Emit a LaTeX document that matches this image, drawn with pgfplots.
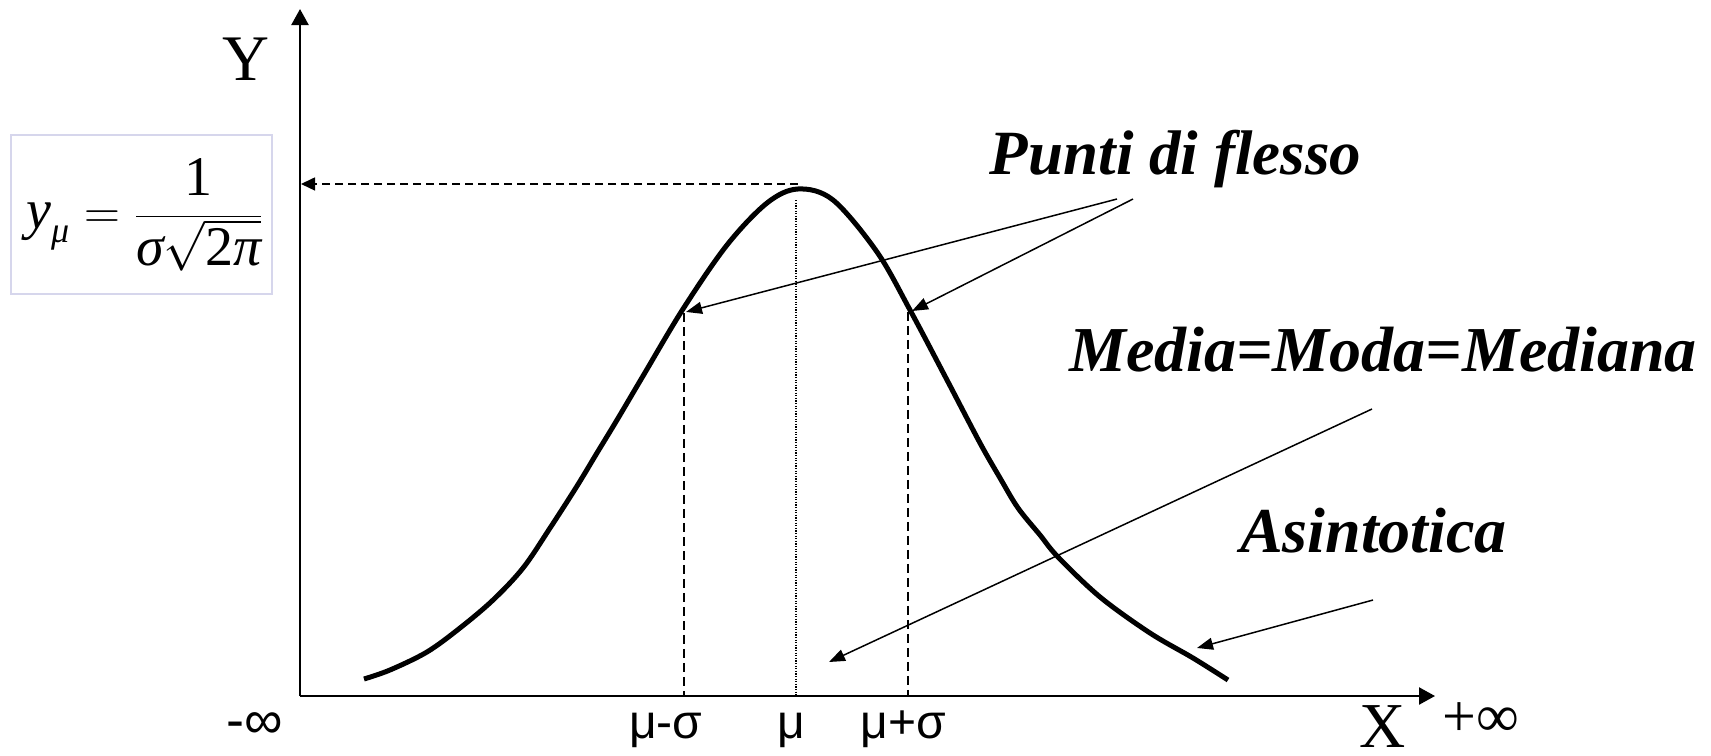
\documentclass[border=0pt]{standalone}
\usepackage{fontspec}
\setmainfont{Liberation Serif}
\newfontfamily\arial{Liberation Sans}
\usepackage{pgfplots}
\pgfplotsset{compat=1.18}
\usetikzlibrary{arrows.meta}
\begin{document}
\begin{tikzpicture}
\begin{axis}[
  scale only axis, width=855.5pt, height=377.5pt,
  xmin=-7.125, xmax=8.1518, ymin=-0.11858, ymax=1.37352,
  hide axis, clip=false]
% invisible frame for the bounding box
\path (axis cs:-7.125,-0.11858) rectangle (axis cs:8.1518,1.37352);
% axes
\draw[line width=1.2pt,-{Triangle[length=8pt,width=8.5pt]}] (axis cs:-4.4464,-0.002) -- (axis cs:-4.4464,1.3557);
\draw[line width=1.2pt,-{Triangle[length=8pt,width=8.5pt]}] (axis cs:-4.4464,-0.002) -- (axis cs:5.6875,-0.002);
% normal curve (x in sigma units, y relative to peak)
\addplot[black, line width=2.5pt, smooth, tension=0.55] coordinates {
(-3.875,0.0316) (-3.643,0.0494) (-3.3125,0.0850) (-3.018,0.1324) (-2.723,0.1877)
(-2.455,0.2510) (-2.214,0.3300) (-1.973,0.4130) (-1.795,0.4783) (-1.616,0.5435)
(-1.384,0.6304) (-1.027,0.7628) (-0.634,0.8893) (-0.277,0.9723) (0,1.0)
(0.3125,0.9783) (0.7054,0.8755) (1.0,0.7609) (1.3304,0.6225) (1.625,0.4980)
(1.8036,0.4289) (1.9643,0.3696) (2.1607,0.3162) (2.3214,0.2727) (2.6964,0.1937)
(3.1429,0.1225) (3.5268,0.0731) (3.8393,0.0296)};
% peak projection
\draw[line width=0.75pt, dash pattern=on 4pt off 2.5pt, -{Triangle[length=7pt,width=6.5pt]}] (axis cs:0,1.0099) -- (axis cs:-4.4375,1.0099);
\draw[line width=0.6pt, dash pattern=on 0.6pt off 0.7pt] (axis cs:-0.018,0.978) -- (axis cs:-0.018,0);
% sigma lines
\draw[line width=0.75pt, dash pattern=on 4.5pt off 2.5pt] (axis cs:-1.018,0.755) -- (axis cs:-1.018,0);
\draw[line width=0.75pt, dash pattern=on 4.5pt off 2.5pt] (axis cs:0.982,0.757) -- (axis cs:0.982,0);
% annotation arrows
\draw[line width=0.75pt, -{Triangle[length=8pt,width=6pt]}] (axis cs:2.848,0.9802) -- (axis cs:-1.0,0.757);
\draw[line width=0.75pt, -{Triangle[length=8pt,width=6pt]}] (axis cs:2.991,0.9802) -- (axis cs:1.018,0.7589);
\draw[line width=0.75pt, -{Triangle[length=8pt,width=6pt]}] (axis cs:5.125,0.5652) -- (axis cs:0.2768,0.0652);
\draw[line width=0.75pt, -{Triangle[length=8pt,width=6pt]}] (axis cs:5.134,0.1877) -- (axis cs:3.5625,0.0929);
% formula box
\draw[line width=0.6pt, draw={rgb,255:red,214;green,214;blue,236}] (axis cs:-7.027,1.1067) rectangle (axis cs:-4.696,0.7925);
\node[inner sep=0pt] at (axis cs:-5.83,0.9496) {\fontsize{28}{32}\selectfont $\displaystyle\mbox{\itshape y}_{\mbox{\fontsize{18}{20}\selectfont\itshape μ}}=\frac{\mbox{1}}{\mbox{\itshape σ}\sqrt{\mbox{2\itshape π}}}$};
% labels
\node[anchor=base, inner sep=0pt] at (axis cs:-4.9286,1.2154) {\fontsize{32.5}{36}\selectfont Y};
\node[anchor=base, inner sep=0pt] at (axis cs:5.2232,-0.1047) {\fontsize{32}{36}\selectfont X};
\node[inner sep=0pt] at (axis cs:6.098,-0.0494) {\fontsize{30}{34}\selectfont +∞};
\node[inner sep=0pt] at (axis cs:-4.848,-0.0613) {\arial\fontsize{27}{30}\selectfont -∞};
\node[anchor=base, inner sep=0pt] at (axis cs:-1.179,-0.085) {\arial\fontsize{24}{28}\selectfont μ-σ};
\node[anchor=base, inner sep=0pt] at (axis cs:-0.0625,-0.085) {\arial\fontsize{24}{28}\selectfont μ};
\node[anchor=base, inner sep=0pt] at (axis cs:0.9375,-0.085) {\arial\fontsize{24}{28}\selectfont μ+σ};
\node[anchor=base, inner sep=0pt] at (axis cs:3.3705,1.0277) {\fontsize{31.5}{36}\selectfont\bfseries\itshape Punti di flesso};
\node[anchor=base, inner sep=0pt] at (axis cs:5.2232,0.6403) {\fontsize{32}{36}\selectfont\bfseries\itshape Media=Moda=Mediana};
\node[anchor=base, inner sep=0pt] at (axis cs:5.1384,0.2826) {\fontsize{32}{36}\selectfont\bfseries\itshape Asintotica};
\end{axis}
\end{tikzpicture}
\end{document}
